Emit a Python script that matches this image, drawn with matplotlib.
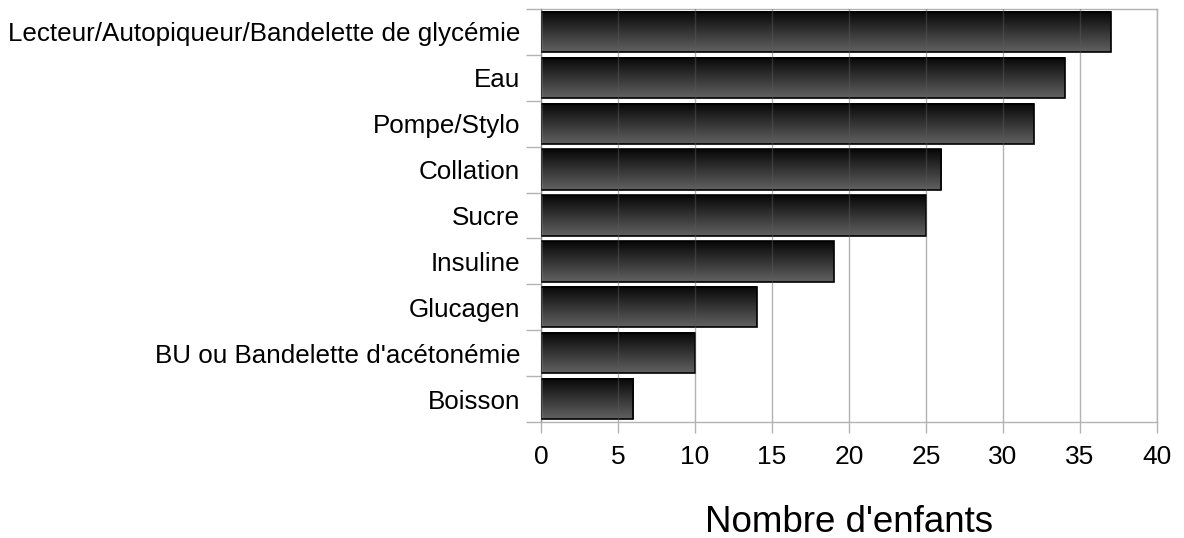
import matplotlib
matplotlib.use("Agg")
import matplotlib.pyplot as plt
import numpy as np

categories = ["Lecteur/Autopiqueur/Bandelette de glycémie", "Eau", "Pompe/Stylo",
              "Collation", "Sucre", "Insuline", "Glucagen",
              "BU ou Bandelette d'acétonémie", "Boisson"]
values = [37, 34, 32, 26, 25, 19, 14, 10, 6]
xticks = [0, 5, 10, 15, 20, 25, 30, 35, 40]
xlabel = "Nombre d'enfants"

plt.rcParams['font.family'] = ['Liberation Sans', 'DejaVu Sans']

fig = plt.figure(figsize=(11.84, 5.38), dpi=100)
ax = fig.add_axes([541/1184, 1-422/538, (1157-541)/1184, (422-9)/538])

n = len(categories)
ypos = np.arange(n)
h = 0.88
grad = np.linspace(0.03, 0.38, 64).reshape(-1, 1)
for y, v in zip(ypos, values):
    ax.imshow(grad, cmap='gray', vmin=0, vmax=1, aspect='auto', origin='upper',
              extent=[0, v, y + h/2, y - h/2], zorder=2, interpolation='bilinear')
    ax.add_patch(plt.Rectangle((0, y - h/2), v, h, fill=False, edgecolor='black',
                               linewidth=1.2, zorder=3))

ax.set_xlim(0, 40)
ax.set_ylim(n - 0.5, -0.5)
ax.set_xticks(xticks)
ax.set_yticks(ypos)
ax.set_yticklabels(categories, fontsize=18.7)
ax.set_xticklabels([str(t) for t in xticks], fontsize=19)
ax.set_yticks(np.arange(n + 1) - 0.5, minor=True)
ax.tick_params(axis='y', which='major', length=0, pad=15)
ax.tick_params(axis='y', which='minor', length=11, color='#b3b3b3', width=1)
ax.tick_params(axis='x', which='major', length=8, color='#b3b3b3', width=1, pad=8.5)

for t in xticks:
    ax.axvline(t, color='#595959', alpha=0.46, linewidth=1, zorder=4)

for s in ax.spines.values():
    s.set_color('#b3b3b3')
    s.set_linewidth(1)

ax.set_xlabel(xlabel, fontsize=26.5, labelpad=26)

fig.savefig("out.png", dpi=100)
